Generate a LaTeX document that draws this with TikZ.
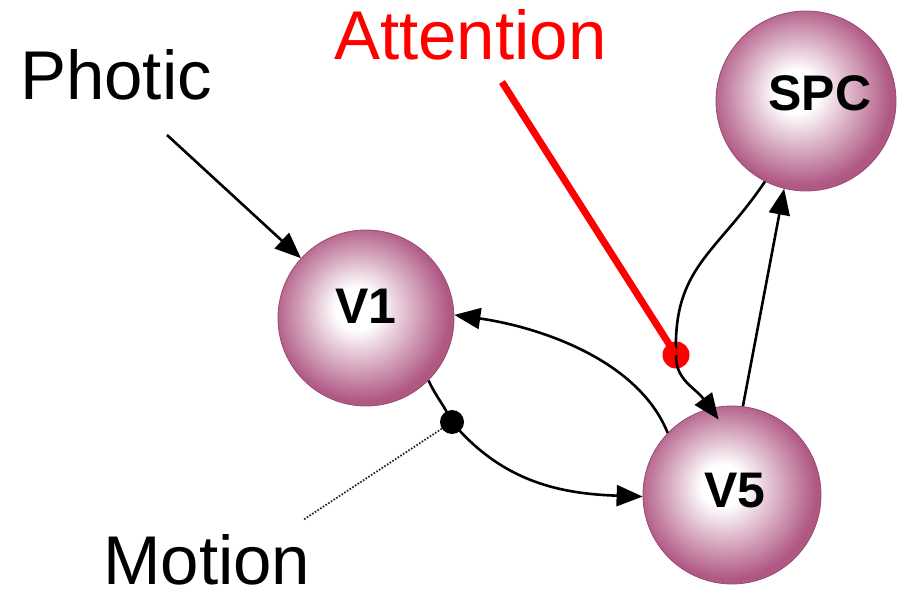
\documentclass[tikz,border=0pt]{standalone}
\usepackage{fontspec}
\setmainfont{Liberation Sans}
\usetikzlibrary{arrows.meta}
\definecolor{mauve}{RGB}{176,88,132}
\pgfdeclareradialshading{sphere}{\pgfpoint{-3bp}{3bp}}{color(0bp)=(white); color(6bp)=(white); color(25bp)=(mauve); color(50bp)=(mauve)}
\begin{document}
\begin{tikzpicture}[x=1pt,y=1pt,
  area/.style={circle, shade, shading=sphere, draw=mauve!85!black, line width=0.8pt,
    minimum size=176pt, inner sep=0pt, font=\fontsize{50}{50}\selectfont\bfseries},
  lbl/.style={anchor=base west, inner sep=0pt, font=\fontsize{69}{69}\selectfont},
  conn/.style={line width=2.6pt, -{Triangle[length=26pt,width=21pt]}},
  blob/.style={circle, inner sep=0pt}]
\useasboundingbox (0,0) rectangle (907,-596);
% areas
\node[area] (V1) at (366,-318) {\raisebox{24pt}{V1}};
\node[area, minimum size=178pt] (V5) at (732,-495) {\hspace*{6pt}\raisebox{10pt}{V5}};
\node[area, minimum size=180pt] (SPC) at (806,-101) {\hspace*{28pt}\raisebox{16pt}{SPC}};
% labels
\node[lbl] (photic) at (20,-100) {Photic};
\node[lbl, text=red] (attention) at (334,-60) {Attention};
\node[lbl] (motion) at (103,-584) {Motion};
% dots and free ends
\node[blob, fill=black, minimum size=24pt] (mdot) at (452,-422) {};
\node[blob, fill=red, minimum size=27pt] (rdot) at (676,-355) {};
\coordinate (pstart) at (167,-135);
\coordinate (atop) at (502,-82);
\coordinate (mend) at (303,-520);
% connectors
\draw[conn] (pstart) -- (V1);
\draw[conn] (V5.136) to[out=112, in=-8, looseness=0.85] (V1.2);
\draw[conn] (V1.-45) to[out=-65, in=115] (mdot.center) to[out=-50, in=178] (V5.181);
\draw[conn, shorten >=-14pt] (SPC.-117) to[out=-124, in=92, looseness=1.15] (rdot.center) to[out=-92, in=126] (V5.104);
\draw[conn] (V5.83) -- (SPC.-104);
\draw[red, line width=7pt] (atop) -- (rdot.center);
\draw[black!85, line width=1.8pt, dash pattern=on 1.6pt off 1.6pt] (mdot) -- (mend);
\end{tikzpicture}
\end{document}
